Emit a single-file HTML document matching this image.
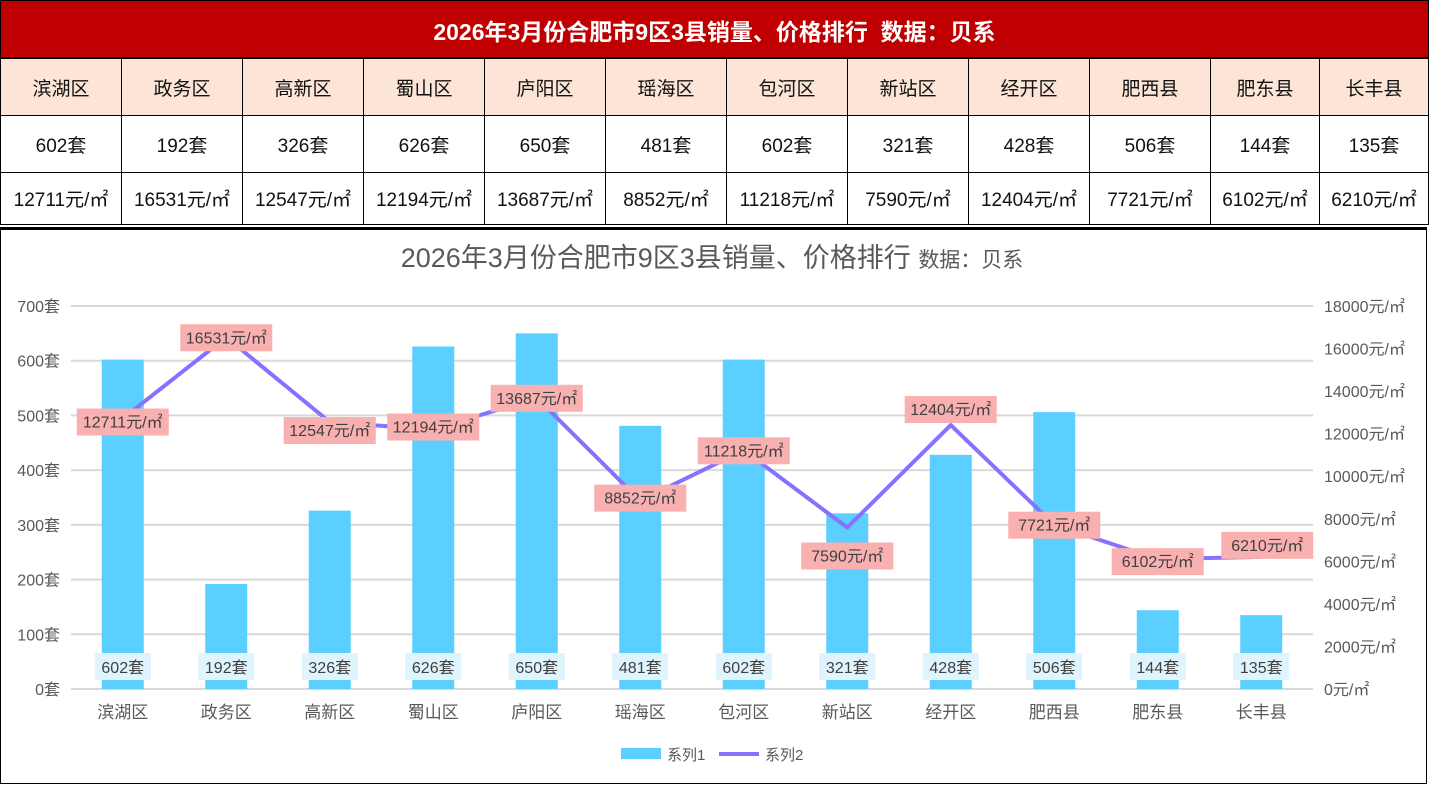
<!DOCTYPE html>
<html><head><meta charset="utf-8"><style>
body{margin:0;width:1429px;height:786px;overflow:hidden;background:#fff;font-family:"Liberation Sans","Noto Sans CJK SC",sans-serif}
#hdr{position:absolute;left:0;top:0;width:1429px;height:58px;background:#c00000;color:#fff;font-size:23px;font-weight:bold;text-align:center;line-height:62px;border:1px solid #000;box-sizing:border-box}
table{position:absolute;left:0;top:58px;border-collapse:collapse;width:1429px;font-size:19px;color:#111}
td{border:1.5px solid #000;text-align:center;padding:0;white-space:nowrap;overflow:hidden}
tr.h td{background:#fce4d6;height:56px}
tr.c td{height:56px}
tr.p td{height:51px;font-size:19px}
#chart{position:absolute;left:0;top:227px;width:1427px;height:557px;border:1px solid #000;border-top:3px solid #000;box-sizing:border-box}
</style></head><body>
<div id="hdr">2026年3月份合肥市9区3县销量、价格排行&nbsp;&nbsp;数据：贝系</div>
<table>
<colgroup><col style="width:121px"><col style="width:121px"><col style="width:121px"><col style="width:121px"><col style="width:121px"><col style="width:121px"><col style="width:121px"><col style="width:121px"><col style="width:121px"><col style="width:121px"><col style="width:109px"><col style="width:109px"></colgroup>
<tr class="h" id="rh"></tr><tr class="c" id="rc"></tr><tr class="p" id="rp"></tr>
</table>
<div id="chart"></div>
<svg id="svg" width="1429" height="786" style="position:absolute;left:0;top:0"></svg>
<script>
const categories=["滨湖区","政务区","高新区","蜀山区","庐阳区","瑶海区","包河区","新站区","经开区","肥西县","肥东县","长丰县"];
const sales=[602,192,326,626,650,481,602,321,428,506,144,135];
const prices=[12711,16531,12547,12194,13687,8852,11218,7590,12404,7721,6102,6210];
const leftTicks=[0,100,200,300,400,500,600,700];
const rightTicks=[0,2000,4000,6000,8000,10000,12000,14000,16000,18000];
const labelDy=[3,0,8,-3,0,-3,0,28,-16,0,2,-12];
const labelDx=[0,0,0,0,0,0,0,0,0,0,0,6];

["rh","rc","rp"].forEach((id,r)=>{const tr=document.getElementById(id);
categories.forEach((c,i)=>{const td=document.createElement('td');
td.textContent=r==0?c:r==1?sales[i]+'套':prices[i]+'元/㎡';

tr.appendChild(td);});});

const NS='http://www.w3.org/2000/svg',svg=document.getElementById('svg');
function el(t,a,txt){const e=document.createElementNS(NS,t);for(const k in a)e.setAttribute(k,a[k]);if(txt!=null)e.textContent=txt;svg.appendChild(e);return e;}
const X0=71,X1=1313,Y0=689,Y1=306;
const step=(X1-X0)/categories.length;
const xc=i=>X0+step*(i+0.5);
const yL=v=>Y0-(v/700)*(Y0-Y1);
const yR=v=>Y0-(v/18000)*(Y0-Y1);
let t=el('text',{x:712,y:267,'text-anchor':'middle','font-size':27,fill:'#595959'});t.innerHTML='2026年3月份合肥市9区3县销量、价格排行 <tspan font-size="21">数据：贝系</tspan>';

leftTicks.forEach(v=>{let g=el('line',{x1:X0,x2:X1,y1:yL(v),y2:yL(v),stroke:'#d9d9d9','stroke-width':2});

let l=el('text',{x:60,y:yL(v)+6,'text-anchor':'end','font-size':16,fill:'#595959'},v+'套');
});
rightTicks.forEach(v=>{let l=el('text',{x:1324,y:yR(v)+6,'font-size':16,fill:'#595959'},v+'元/㎡');
});
categories.forEach((c,i)=>{let b=el('rect',{x:xc(i)-21,y:yL(sales[i]),width:42,height:Y0-yL(sales[i]),fill:'#5bcfff'});

let xl=el('text',{x:xc(i),y:718,'text-anchor':'middle','font-size':17,fill:'#595959'},c);
});
let pts=prices.map((p,i)=>xc(i)+','+yR(p)).join(' ');
let ln=el('polyline',{points:pts,fill:'none',stroke:'#8573ff','stroke-width':4,'stroke-linejoin':'round'});

categories.forEach((c,i)=>{let bx=el('rect',{x:xc(i)-28,y:653,width:56,height:27,fill:'#dff4fd'});

let s=el('text',{x:xc(i),y:673,'text-anchor':'middle','font-size':16,fill:'#404040'},sales[i]+'套');

const cx=xc(i)+labelDx[i],cy=yR(prices[i])+labelDy[i];
let pb=el('rect',{x:cx-46,y:cy-13,width:92,height:27,fill:'#f8b0b0'});

let pt=el('text',{x:cx,y:cy+6,'text-anchor':'middle','font-size':16,fill:'#404040'},prices[i]+'元/㎡');
});
let lg1=el('rect',{x:621,y:748,width:40,height:11,fill:'#5bcfff'});
let lt1=el('text',{x:667,y:760,'font-size':15,fill:'#595959'},'系列1');
let lg2=el('line',{x1:719,x2:759,y1:754,y2:754,stroke:'#8573ff','stroke-width':4});
let lt2=el('text',{x:765,y:760,'font-size':15,fill:'#595959'},'系列2');
</script>
</body></html>
